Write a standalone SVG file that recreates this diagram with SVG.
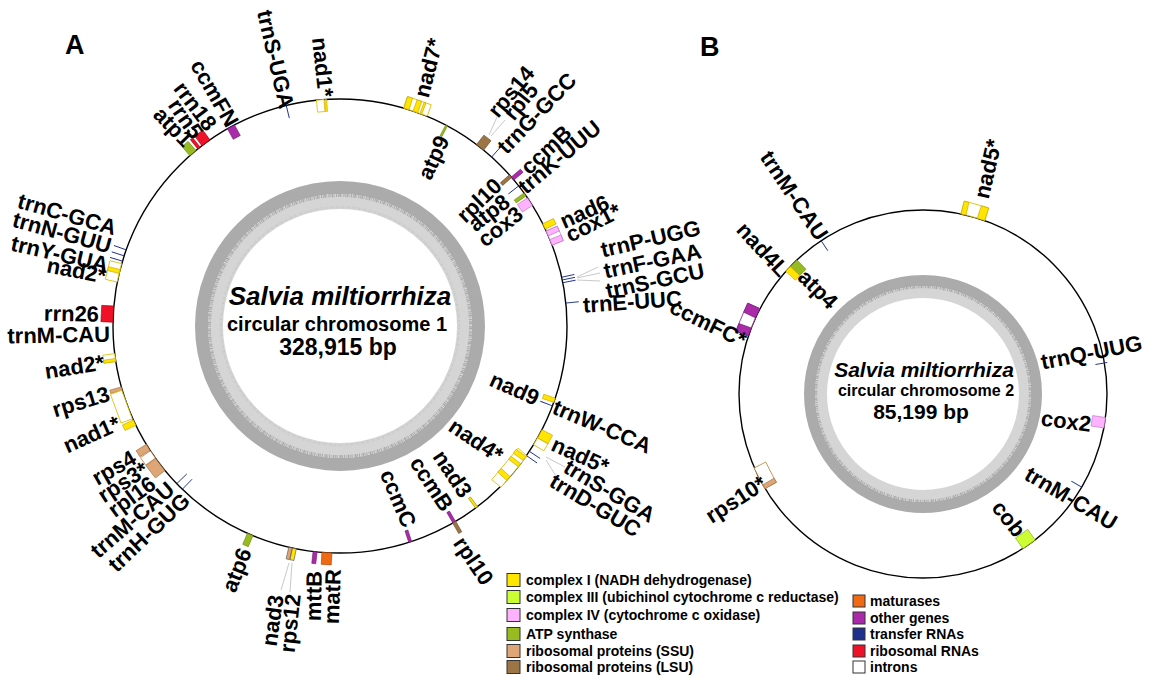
<svg xmlns="http://www.w3.org/2000/svg" width="1149" height="677" viewBox="0 0 1149 677">
<style>
text{font-family:"Liberation Sans",Arial,sans-serif;font-weight:bold;fill:#000}
.lb{font-size:22px}
.lg{font-size:14px}
.c1{fill:#ffe500;stroke:#c8a600;stroke-width:.6}
.c3{fill:#ccff33;stroke:#88a020;stroke-width:.6}
.c4{fill:#ffb3ff;stroke:#c070c0;stroke-width:.6}
.atp{fill:#99bb22;stroke:#6a8a10;stroke-width:.6}
.ssu{fill:#dea676;stroke:#a07040;stroke-width:.6}
.lsu{fill:#9c7446;stroke:#6a4a28;stroke-width:.6}
.mat{fill:#f06a14;stroke:#a04000;stroke-width:.6}
.oth{fill:#aa2aaa;stroke:#701870;stroke-width:.6}
.rrna{fill:#ee1128;stroke:#a00010;stroke-width:.6}
.in1{fill:#fff;stroke:#d8c000;stroke-width:.8}
.in4{fill:#fff;stroke:#d090d0;stroke-width:.8}
.inS{fill:#fff;stroke:#c08a50;stroke-width:.8}
.inO{fill:#fff;stroke:#903090;stroke-width:.8}
.trna{stroke:#1e2f8c;stroke-width:.9;fill:none}
.lead{stroke:#b0b0b0;stroke-width:.7;fill:none}
.ring{fill:none;stroke:#000;stroke-width:1.4}
.sq{stroke:#333;stroke-width:1}
</style>
<rect width="1149" height="677" fill="#fff"/>

<text x="65" y="54" style="font-size:27px">A</text>
<text x="700" y="56" style="font-size:27px">B</text>

<!-- Chromosome 1 backbone -->
<g id="chromosome1">
<circle cx="340" cy="326" r="138.5" fill="none" stroke="#ababab" stroke-width="13"/>
<circle cx="340" cy="326" r="124.5" fill="none" stroke="#d5d5d5" stroke-width="15"/>
<circle cx="340" cy="326" r="131" fill="none" stroke="#ababab" stroke-width="4" stroke-dasharray="0.8 0.6 1.6 0.7 0.5 1.3 1.1 0.9"/>
<circle cx="340" cy="326" r="119" fill="none" stroke="#c6c6c6" stroke-width="2.5" stroke-dasharray="0.5 1.2 0.9 0.6 0.4 1.8"/>
<circle class="ring" cx="340" cy="326" r="227"/>
<text x="340" y="305" text-anchor="middle" style="font-size:26px;font-style:italic">Salvia miltiorrhiza</text>
<text x="337" y="331" text-anchor="middle" style="font-size:20px">circular chromosome 1</text>
<text x="338" y="355" text-anchor="middle" style="font-size:23px">328,915 bp</text>
</g>

<!-- Chromosome 2 backbone -->
<g id="chromosome2">
<circle cx="923" cy="394" r="113.5" fill="none" stroke="#ababab" stroke-width="11"/>
<circle cx="923" cy="394" r="102" fill="none" stroke="#d5d5d5" stroke-width="12"/>
<circle cx="923" cy="394" r="107.5" fill="none" stroke="#ababab" stroke-width="3.5" stroke-dasharray="0.8 0.6 1.6 0.7 0.5 1.3 1.1 0.9"/>
<circle class="ring" cx="923" cy="394" r="184"/>
<text x="924" y="377" text-anchor="middle" style="font-size:21px;font-style:italic">Salvia miltiorrhiza</text>
<text x="926" y="396" text-anchor="middle" style="font-size:16px">circular chromosome 2</text>
<text x="921" y="419" text-anchor="middle" style="font-size:21px">85,199 bp</text>
</g>

<!-- connectors (leader lines) -->
<g id="connectors">
<line class="lead" x1="489" y1="135" x2="497" y2="117"/>
<line class="lead" x1="491" y1="136" x2="505" y2="120"/>
<line class="lead" x1="577" y1="277" x2="598" y2="267"/>
<line class="lead" x1="577" y1="278" x2="600" y2="273"/>
<line class="lead" x1="577" y1="280" x2="600" y2="281"/>
<line class="lead" x1="546" y1="457" x2="565" y2="467"/>
<line class="lead" x1="546" y1="460" x2="556" y2="476"/>
<line class="lead" x1="289" y1="563" x2="281" y2="590"/>
<line class="lead" x1="292" y1="563" x2="290" y2="592"/>
</g>

<!-- ===== chromosome 1 genes ===== -->
<g id="nad7">
<rect class="in1" x="-12.6" y="-239" width="25.2" height="12" transform="translate(340 326) rotate(19.4)"/>
<rect class="c1" x="-2.65" y="-239" width="5.3" height="12" transform="translate(340 326) rotate(17.05)"/>
<rect class="c1" x="-2.45" y="-239" width="4.9" height="12" transform="translate(340 326) rotate(19.4)"/>
<rect class="c1" x="-1" y="-239" width="2" height="12" transform="translate(340 326) rotate(20.85)"/>
<text class="lb" dy=".35em" transform="translate(421 97) rotate(-76)">nad7*</text>
</g>
<g id="nad1-top">
<rect class="in1" x="-3.75" y="-227" width="7.5" height="12" transform="translate(340 326) rotate(-5)"/>
<rect class="c1" x="-1" y="-227" width="2" height="12" transform="translate(340 326) rotate(-3.6)"/>
<text class="lb" dy=".35em" text-anchor="end" transform="translate(326 97) rotate(84)">nad1*</text>
</g>
<g id="trnS-UGA">
<line class="trna" x1="0" y1="-227" x2="0" y2="-214" transform="translate(340 326) rotate(-13.7)"/>
<text class="lb" dy=".35em" text-anchor="end" transform="translate(287 108) rotate(77)">trnS-UGA</text>
</g>
<g id="ccmFN">
<rect class="oth" x="-4" y="-227" width="8" height="12" transform="translate(340 326) rotate(-28.7)"/>
<text class="lb" dy=".35em" text-anchor="end" transform="translate(233 125) rotate(60)">ccmFN</text>
</g>
<g id="rrn18">
<rect class="rrna" x="-5" y="-239" width="10" height="12" transform="translate(340 326) rotate(-36.2)"/>
<text class="lb" dy=".35em" text-anchor="end" transform="translate(212 128) rotate(53)">rrn18</text>
</g>
<g id="rrn5">
<rect class="rrna" x="-1.5" y="-239" width="3" height="12" transform="translate(340 326) rotate(-38.4)"/>
<text class="lb" dy=".35em" text-anchor="end" transform="translate(198 136) rotate(55)">rrn5</text>
</g>
<g id="atp1">
<rect class="atp" x="-4" y="-239" width="8" height="12" transform="translate(340 326) rotate(-40.4)"/>
<text class="lb" dy=".35em" text-anchor="end" transform="translate(189 143) rotate(46)">atp1</text>
</g>
<g id="trnC-GCA">
<line class="trna" x1="0" y1="-227" x2="0" y2="-240" transform="translate(340 326) rotate(-70.4)"/>
<text class="lb" dy=".35em" text-anchor="end" transform="translate(116 228) rotate(16)">trnC-GCA</text>
</g>
<g id="trnN-GUU">
<line class="trna" x1="0" y1="-227" x2="0" y2="-240" transform="translate(340 326) rotate(-72)"/>
<text class="lb" dy=".35em" text-anchor="end" transform="translate(111 246) rotate(15.5)">trnN-GUU</text>
</g>
<g id="trnY-GUA">
<line class="trna" x1="0" y1="-227" x2="0" y2="-240" transform="translate(340 326) rotate(-73.4)"/>
<text class="lb" dy=".35em" text-anchor="end" transform="translate(108 265) rotate(13)">trnY-GUA</text>
</g>
<g id="nad2-up">
<rect class="in1" x="-9.55" y="-239" width="19.1" height="12" transform="translate(340 326) rotate(-76.45)"/>
<rect class="c1" x="-2" y="-239" width="4" height="12" transform="translate(340 326) rotate(-76.1)"/>
<text class="lb" dy=".35em" text-anchor="end" transform="translate(106 276) rotate(11)">nad2*</text>
</g>
<g id="rrn26">
<rect class="rrna" x="-8.15" y="-239" width="16.3" height="12" transform="translate(340 326) rotate(-87)"/>
<text class="lb" dy=".35em" text-anchor="end" transform="translate(99 314) rotate(1)">rrn26</text>
</g>
<g id="trnM-CAU-1">
<text class="lb" dy=".35em" text-anchor="end" transform="translate(110 334) rotate(-1)">trnM-CAU</text>
</g>
<g id="nad2-low">
<rect class="in1" x="-4" y="-239" width="8" height="12" transform="translate(340 326) rotate(-98)"/>
<rect class="c1" x="-1.5" y="-239" width="3" height="12" transform="translate(340 326) rotate(-98.6)"/>
<text class="lb" dy=".35em" text-anchor="end" transform="translate(104 362) rotate(-9)">nad2*</text>
</g>
<g id="rps13">
<rect class="ssu" x="-1.75" y="-239" width="3.5" height="12" transform="translate(340 326) rotate(-106)"/>
<text class="lb" dy=".35em" text-anchor="end" transform="translate(109 393) rotate(-17)">rps13</text>
</g>
<g id="nad1-left">
<rect class="in1" x="-15.25" y="-239" width="30.5" height="12" transform="translate(340 326) rotate(-110.25)"/>
<rect class="c1" x="-3" y="-239" width="6" height="12" transform="translate(340 326) rotate(-115.2)"/>
<text class="lb" dy=".35em" text-anchor="end" transform="translate(119 422) rotate(-24)">nad1*</text>
</g>
<g id="rps4">
<rect class="ssu" x="-3.5" y="-239" width="7" height="12" transform="translate(340 326) rotate(-122.3)"/>
<text class="lb" dy=".35em" text-anchor="end" transform="translate(134 456) rotate(-30)">rps4</text>
</g>
<g id="rps3">
<rect class="inS" x="-4.5" y="-239" width="9" height="12" transform="translate(340 326) rotate(-124.5)"/>
<rect class="ssu" x="-7.75" y="-239" width="15.5" height="12" transform="translate(340 326) rotate(-127.6)"/>
<text class="lb" dy=".35em" text-anchor="end" transform="translate(146 467) rotate(-33)">rps3*</text>
</g>
<g id="rpl16">
<text class="lb" dy=".35em" text-anchor="end" transform="translate(153 481) rotate(-36)">rpl16</text>
</g>
<g id="trnM-CAU-2">
<line class="trna" x1="0" y1="-227" x2="0" y2="-213" transform="translate(340 326) rotate(-134)"/>
<text class="lb" dy=".35em" text-anchor="end" transform="translate(171 486) rotate(-41)">trnM-CAU</text>
</g>
<g id="trnH-GUG">
<line class="trna" x1="0" y1="-227" x2="0" y2="-213" transform="translate(340 326) rotate(-136)"/>
<text class="lb" dy=".35em" text-anchor="end" transform="translate(186 497) rotate(-43.5)">trnH-GUG</text>
</g>
<g id="atp6">
<rect class="atp" x="-3" y="-239" width="6" height="12" transform="translate(340 326) rotate(203.3)"/>
<text class="lb" dy=".35em" text-anchor="end" transform="translate(245 549) rotate(-68)">atp6</text>
</g>
<g id="nad3-bottom">
<rect class="c1" x="-2" y="-239" width="4" height="12" transform="translate(340 326) rotate(191.6)" style="stroke:#555"/>
<text class="lb" dy=".35em" text-anchor="end" transform="translate(276 595) rotate(-82)">nad3</text>
</g>
<g id="rps12">
<rect class="ssu" x="-1.75" y="-239" width="3.5" height="12" transform="translate(340 326) rotate(192.6)" style="stroke:#555"/>
<text class="lb" dy=".35em" text-anchor="end" transform="translate(293 594) rotate(-84)">rps12</text>
</g>
<g id="mttB">
<rect class="oth" x="-2" y="-239" width="4" height="12" transform="translate(340 326) rotate(186.3)"/>
<text class="lb" dy=".35em" text-anchor="end" transform="translate(314 571) rotate(-89)">mttB</text>
</g>
<g id="matR">
<rect class="mat" x="-5" y="-239" width="10" height="12" transform="translate(340 326) rotate(183.3)"/>
<text class="lb" dy=".35em" text-anchor="end" transform="translate(333 569) rotate(-88)">matR</text>
</g>
<g id="ccmC">
<rect class="oth" x="-1.5" y="-227" width="3" height="12" transform="translate(340 326) rotate(162)"/>
<text class="lb" dy=".35em" text-anchor="end" transform="translate(410 526) rotate(67)">ccmC</text>
</g>
<g id="ccmB-low">
<rect class="oth" x="-1.5" y="-227" width="3" height="12" transform="translate(340 326) rotate(149.8)"/>
<text class="lb" dy=".35em" text-anchor="end" transform="translate(448 509) rotate(57)">ccmB</text>
</g>
<g id="rpl10-low">
<rect class="lsu" x="-1.75" y="-239" width="3.5" height="12" transform="translate(340 326) rotate(149.8)"/>
<text class="lb" dy=".35em" transform="translate(459 539) rotate(56)">rpl10</text>
</g>
<g id="nad3-right">
<rect class="c1" x="-1.25" y="-227" width="2.5" height="12" transform="translate(340 326) rotate(143)" style="stroke:#8a8020"/>
<text class="lb" dy=".35em" text-anchor="end" transform="translate(467 495) rotate(56)">nad3</text>
</g>
<g id="nad4">
<rect class="in1" x="-20.5" y="-227" width="41" height="12" transform="translate(340 326) rotate(129.9)"/>
<rect class="c1" x="-2.5" y="-227" width="5" height="12" transform="translate(340 326) rotate(125.65)"/>
<rect class="c1" x="-1.95" y="-227" width="3.9" height="12" transform="translate(340 326) rotate(127.8)"/>
<rect class="c1" x="-2.5" y="-227" width="5" height="12" transform="translate(340 326) rotate(132.15)"/>
<text class="lb" dy=".35em" text-anchor="end" transform="translate(501 457) rotate(34)">nad4*</text>
</g>
<g id="trnS-GGA">
<line class="trna" x1="0" y1="-227" x2="0" y2="-240" transform="translate(340 326) rotate(123.5)"/>
<text class="lb" dy=".35em" transform="translate(566 465) rotate(30.7)">trnS-GGA</text>
</g>
<g id="trnD-GUC">
<line class="trna" x1="0" y1="-227" x2="0" y2="-240" transform="translate(340 326) rotate(124.8)"/>
<text class="lb" dy=".35em" transform="translate(552 479) rotate(31)">trnD-GUC</text>
</g>
<g id="nad5-A">
<rect class="in1" x="-4.05" y="-239" width="8.1" height="12" transform="translate(340 326) rotate(120.5)"/>
<rect class="c1" x="-4.7" y="-239" width="9.4" height="12" transform="translate(340 326) rotate(118.35)"/>
<text class="lb" dy=".35em" transform="translate(553 443) rotate(24)">nad5*</text>
</g>
<g id="trnW-CCA">
<line class="trna" x1="0" y1="-227" x2="0" y2="-214" transform="translate(340 326) rotate(110.6)"/>
<text class="lb" dy=".35em" transform="translate(554 406) rotate(23)">trnW-CCA</text>
</g>
<g id="nad9">
<rect class="c1" x="-2.25" y="-227" width="4.5" height="12" transform="translate(340 326) rotate(109.1)"/>
<text class="lb" dy=".35em" text-anchor="end" transform="translate(538 399) rotate(24)">nad9</text>
</g>
<g id="trnE-UUC">
<line class="trna" x1="0" y1="-227" x2="0" y2="-240" transform="translate(340 326) rotate(84.2)"/>
<text class="lb" dy=".35em" transform="translate(583 305) rotate(-4)">trnE-UUC</text>
</g>
<g id="trnS-GCU">
<line class="trna" x1="0" y1="-227" x2="0" y2="-240" transform="translate(340 326) rotate(79)"/>
<text class="lb" dy=".35em" transform="translate(606 291) rotate(-12)">trnS-GCU</text>
</g>
<g id="trnF-GAA">
<line class="trna" x1="0" y1="-227" x2="0" y2="-240" transform="translate(340 326) rotate(78.3)"/>
<text class="lb" dy=".35em" transform="translate(604 271) rotate(-12)">trnF-GAA</text>
</g>
<g id="trnP-UGG">
<line class="trna" x1="0" y1="-227" x2="0" y2="-240" transform="translate(340 326) rotate(77.6)"/>
<text class="lb" dy=".35em" transform="translate(601 250) rotate(-13)">trnP-UGG</text>
</g>
<g id="cox1">
<rect class="in4" x="-7.75" y="-239" width="15.5" height="12" transform="translate(340 326) rotate(67.2)"/>
<rect class="c4" x="-2.65" y="-239" width="5.3" height="12" transform="translate(340 326) rotate(65.95)"/>
<rect class="c4" x="-3.05" y="-239" width="6.1" height="12" transform="translate(340 326) rotate(68.35)"/>
<text class="lb" dy=".35em" transform="translate(567 236) rotate(-27)">cox1*</text>
</g>
<g id="nad6">
<rect class="c1" x="-3" y="-239" width="6" height="12" transform="translate(340 326) rotate(64)"/>
<text class="lb" dy=".35em" transform="translate(561 222) rotate(-24)">nad6</text>
</g>
<g id="cox3">
<rect class="c4" x="-4.5" y="-227" width="9" height="12" transform="translate(340 326) rotate(56.8)"/>
<text class="lb" dy=".35em" text-anchor="end" transform="translate(520 211) rotate(-38)">cox3</text>
</g>
<g id="atp8">
<rect class="atp" x="-1.75" y="-227" width="3.5" height="12" transform="translate(340 326) rotate(54.6)"/>
<text class="lb" dy=".35em" text-anchor="end" transform="translate(507 199) rotate(-37)">atp8</text>
</g>
<g id="rpl10-up">
<rect class="lsu" x="-1.75" y="-227" width="3.5" height="12" transform="translate(340 326) rotate(48.7)"/>
<text class="lb" dy=".35em" text-anchor="end" transform="translate(498 182) rotate(-44)">rpl10</text>
</g>
<g id="trnK-UUU">
<line class="trna" x1="0" y1="-227" x2="0" y2="-214" transform="translate(340 326) rotate(51.9)"/>
<text class="lb" dy=".35em" transform="translate(521 189) rotate(-40)">trnK-UUU</text>
</g>
<g id="ccmB-up">
<rect class="oth" x="-2" y="-239" width="4" height="12" transform="translate(340 326) rotate(49.5)"/>
<text class="lb" dy=".35em" transform="translate(524 170) rotate(-43)">ccmB</text>
</g>
<g id="trnG-GCC">
<line class="trna" x1="0" y1="-227" x2="0" y2="-240" transform="translate(340 326) rotate(41.9)"/>
<text class="lb" dy=".35em" transform="translate(501 150) rotate(-46)">trnG-GCC</text>
</g>
<g id="rpl5">
<rect class="lsu" x="-4.5" y="-239" width="9" height="12" transform="translate(340 326) rotate(38.1)"/>
<text class="lb" dy=".35em" transform="translate(508 117) rotate(-51)">rpl5</text>
</g>
<g id="rps14">
<text class="lb" dy=".35em" transform="translate(492 114) rotate(-50)">rps14</text>
</g>
<g id="atp9">
<rect class="atp" x="-1" y="-227" width="2" height="12" transform="translate(340 326) rotate(28)"/>
<text class="lb" dy=".35em" text-anchor="end" transform="translate(443 137) rotate(-65)">atp9</text>
</g>

<!-- ===== chromosome 2 genes ===== -->
<g id="nad5-B">
<rect class="in1" x="-12.5" y="-197" width="25" height="13" transform="translate(923 394) rotate(15.75)"/>
<rect class="c1" x="-2.5" y="-197" width="5" height="13" transform="translate(923 394) rotate(12.75)"/>
<rect class="c1" x="-3.85" y="-197" width="7.7" height="13" transform="translate(923 394) rotate(18.35)"/>
<text class="lb" dy=".35em" transform="translate(981 198) rotate(-77)">nad5*</text>
</g>
<g id="trnM-CAU-B1">
<line class="trna" x1="0" y1="-184" x2="0" y2="-172" transform="translate(923 394) rotate(-33.6)"/>
<text class="lb" dy=".35em" text-anchor="end" transform="translate(823 238) rotate(56)">trnM-CAU</text>
</g>
<g id="atp4">
<rect class="atp" x="-4.65" y="-184" width="9.3" height="13" transform="translate(923 394) rotate(-44.7)"/>
<text class="lb" dy=".35em" transform="translate(802 273) rotate(45)">atp4</text>
</g>
<g id="nad4L">
<rect class="c1" x="-3.25" y="-184" width="6.5" height="13" transform="translate(923 394) rotate(-47.2)"/>
<text class="lb" dy=".35em" text-anchor="end" transform="translate(785 273) rotate(47)">nad4L</text>
</g>
<g id="ccmFC">
<rect class="inO" x="-15" y="-197" width="30" height="13" transform="translate(923 394) rotate(-67)"/>
<rect class="oth" x="-5" y="-197" width="10" height="13" transform="translate(923 394) rotate(-64)"/>
<rect class="oth" x="-4.15" y="-197" width="8.3" height="13" transform="translate(923 394) rotate(-70.25)"/>
<text class="lb" dy=".35em" text-anchor="end" transform="translate(745 341) rotate(26)">ccmFC*</text>
</g>
<g id="trnQ-UUG">
<line class="trna" x1="0" y1="-187" x2="0" y2="-175" transform="translate(923 394) rotate(80.3)"/>
<text class="lb" dy=".35em" transform="translate(1041 362) rotate(-11)">trnQ-UUG</text>
</g>
<g id="cox2">
<rect class="c4" x="-5.25" y="-184" width="10.5" height="13" transform="translate(923 394) rotate(99)"/>
<text class="lb" dy=".35em" text-anchor="end" transform="translate(1091 424) rotate(7)">cox2</text>
</g>
<g id="trnM-CAU-B2">
<line class="trna" x1="0" y1="-184" x2="0" y2="-172" transform="translate(923 394) rotate(120.4)"/>
<text class="lb" dy=".35em" transform="translate(1027 472) rotate(30.5)">trnM-CAU</text>
</g>
<g id="cob">
<rect class="c3" x="-7.5" y="-184" width="15" height="13" transform="translate(923 394) rotate(144.8)"/>
<text class="lb" dy=".35em" text-anchor="end" transform="translate(1021 534) rotate(52)">cob</text>
</g>
<g id="rps10">
<rect class="inS" x="-11.5" y="-184" width="23" height="13" transform="translate(923 394) rotate(-117.25)"/>
<rect class="ssu" x="-2.3" y="-184" width="4.6" height="13" transform="translate(923 394) rotate(-120.25)"/>
<text class="lb" dy=".35em" text-anchor="end" transform="translate(764 481) rotate(-33)">rps10*</text>
</g>

<!-- legend -->
<g id="legend">
<rect class="sq" x="507" y="573.5" width="13" height="13" fill="#ffe500"/>
<rect class="sq" x="507" y="590.5" width="13" height="13" fill="#ccff33"/>
<rect class="sq" x="507" y="608.5" width="13" height="13" fill="#ffb3ff"/>
<rect class="sq" x="507" y="627.5" width="13" height="13" fill="#99bb22"/>
<rect class="sq" x="507" y="644.5" width="13" height="13" fill="#dea676"/>
<rect class="sq" x="507" y="660.5" width="13" height="13" fill="#9c7446"/>
<text class="lg" x="526" y="585">complex I (NADH dehydrogenase)</text>
<text class="lg" x="526" y="602">complex III (ubichinol cytochrome c reductase)</text>
<text class="lg" x="526" y="620">complex IV (cytochrome c oxidase)</text>
<text class="lg" x="526" y="639">ATP synthase</text>
<text class="lg" x="526" y="656">ribosomal proteins (SSU)</text>
<text class="lg" x="526" y="672">ribosomal proteins (LSU)</text>
<rect class="sq" x="853" y="595" width="12" height="12" fill="#f06a14"/>
<rect class="sq" x="853" y="612" width="12" height="12" fill="#aa2aaa"/>
<rect class="sq" x="853" y="628" width="12" height="12" fill="#1e2f8c"/>
<rect class="sq" x="853" y="645" width="12" height="12" fill="#ee1128"/>
<rect class="sq" x="853" y="661" width="12" height="12" fill="#fff"/>
<text class="lg" x="870" y="606">maturases</text>
<text class="lg" x="870" y="623">other genes</text>
<text class="lg" x="870" y="639">transfer RNAs</text>
<text class="lg" x="870" y="656">ribosomal RNAs</text>
<text class="lg" x="870" y="672">introns</text>
</g>
</svg>
